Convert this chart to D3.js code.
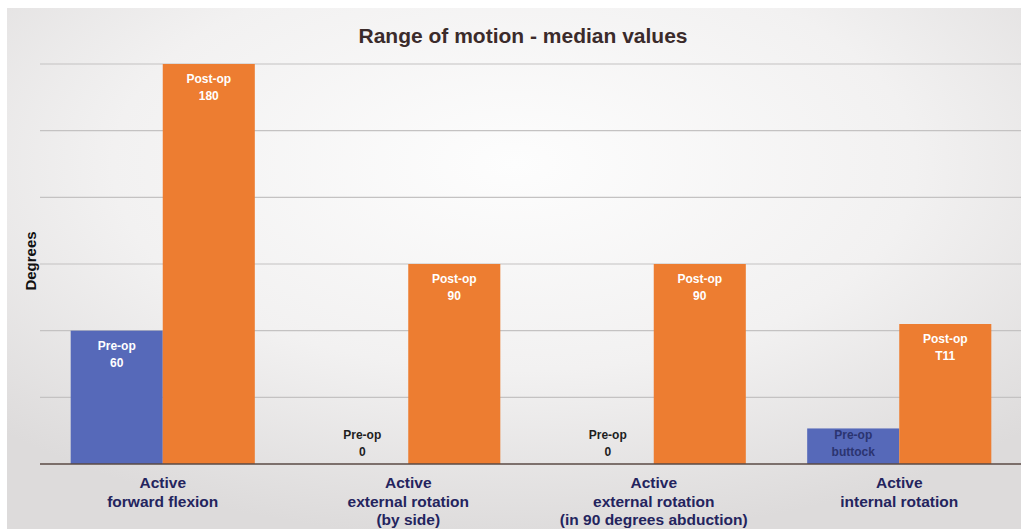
<!DOCTYPE html>
<html>
<head>
<meta charset="utf-8">
<script src="https://cdn.jsdelivr.net/npm/d3@7"></script>
<style>
  body { margin: 0; background: #fff; }
  text { font-family: "Liberation Sans", Arial, sans-serif; font-weight: bold; }
</style>
</head>
<body>
<div id="chart"></div>
<script>
// data
const categories = [
    ["Active", "forward flexion"],
    ["Active", "external rotation", "(by side)"],
    ["Active", "external rotation", "(in 90 degrees abduction)"],
    ["Active", "internal rotation"]
];
const seriesNames = ["Pre-op", "Post-op"];
const preValues = [60, 0, 0, 16];
const postValues = [180, 90, 90, 63];
const preLabels = ["60", "0", "0", "buttock"];
const postLabels = ["180", "90", "90", "T11"];
const yTicks = [0, 30, 60, 90, 120, 150, 180];

const width = 1021, height = 529;
const margin = {top: 64, bottom: 65, left: 40};
const colors = {"Pre-op": "#5669b9", "Post-op": "#ed7d31"};

const svg = d3.select("#chart")
    .append("svg")
    .attr("width", width)
    .attr("height", height);

// soft radial background like the slide
const defs = svg.append("defs");
const grad = defs.append("radialGradient")
    .attr("id", "bg")
    .attr("cx", "50%").attr("cy", "30%").attr("r", "72%");
grad.append("stop").attr("offset", "0%").attr("stop-color", "#fdfdfd");
grad.append("stop").attr("offset", "55%").attr("stop-color", "#f2f1f1");
grad.append("stop").attr("offset", "100%").attr("stop-color", "#dddbdb");
svg.append("rect")
    .attr("x", 7).attr("y", 8)
    .attr("width", width - 7).attr("height", height - 8)
    .attr("fill", "url(#bg)");

const y = d3.scaleLinear()
    .domain([0, 180])
    .range([height - margin.bottom, margin.top]);

const x0 = d3.scaleBand()
    .domain(d3.range(categories.length))
    .range([margin.left, 1022])
    .paddingInner(0.25)
    .paddingOuter(0.125);

const x1 = d3.scaleBand()
    .domain(seriesNames)
    .range([0, x0.bandwidth()]);

// gridlines
svg.append("g")
    .selectAll("line")
    .data(yTicks.slice(1))
    .enter()
    .append("line")
    .attr("x1", margin.left)
    .attr("x2", width)
    .attr("y1", d => y(d))
    .attr("y2", d => y(d))
    .attr("stroke", "#c4c2c2")
    .attr("stroke-width", 1.2);

const rows = categories.map((c, i) => ({
    i: i,
    bars: [
        {key: "Pre-op", value: preValues[i], label: preLabels[i]},
        {key: "Post-op", value: postValues[i], label: postLabels[i]}
    ]
}));

const groups = svg.append("g")
    .selectAll("g")
    .data(rows)
    .enter()
    .append("g")
    .attr("transform", d => "translate(" + x0(d.i) + ",0)");

groups.selectAll("rect")
    .data(d => d.bars.filter(b => b.value > 0))
    .enter()
    .append("rect")
    .attr("x", d => x1(d.key))
    .attr("width", x1.bandwidth())
    .attr("y", d => y(d.value))
    .attr("height", d => y(0) - y(d.value))
    .attr("fill", d => colors[d.key]);

// bar labels
const base = y(0);
groups.selectAll("g.lab")
    .data(d => d.bars)
    .enter()
    .append("g")
    .attr("class", "lab")
    .each(function (d) {
        const top = y(d.value);
        const ly = Math.min(top + 19, base - 25);
        let fill = "#ffffff";
        if (d.value === 0) fill = "#1e1e1e";
        else if (ly < top + 19) fill = "#2b3470"; // short bar, text crowds the edge
        const cx = x1(d.key) + x1.bandwidth() / 2;
        const g = d3.select(this);
        g.append("text")
            .attr("x", cx).attr("y", ly)
            .attr("text-anchor", "middle")
            .attr("font-size", 12)
            .attr("fill", fill)
            .text(d.key);
        g.append("text")
            .attr("x", cx).attr("y", ly + 17)
            .attr("text-anchor", "middle")
            .attr("font-size", 12)
            .attr("fill", fill)
            .text(d.label);
    });

// baseline
svg.append("line")
    .attr("x1", margin.left)
    .attr("x2", width)
    .attr("y1", base)
    .attr("y2", base)
    .attr("stroke", "#5a4a45")
    .attr("stroke-width", 1.6);

// category labels
svg.append("g")
    .selectAll("text")
    .data(categories)
    .enter()
    .append("text")
    .attr("x", (d, i) => x0(i) + x0.bandwidth() / 2)
    .attr("y", 488)
    .attr("text-anchor", "middle")
    .attr("font-size", 15.5)
    .attr("fill", "#24245e")
    .each(function (d) {
        const t = d3.select(this);
        d.forEach((line, j) => {
            t.append("tspan")
                .attr("x", t.attr("x"))
                .attr("dy", j === 0 ? 0 : 18.5)
                .text(line);
        });
    });

// title
svg.append("text")
    .attr("x", 523)
    .attr("y", 43)
    .attr("text-anchor", "middle")
    .attr("font-size", 21)
    .attr("fill", "#3b2b2b")
    .text("Range of motion - median values");

// y axis title
svg.append("text")
    .attr("transform", "translate(36,261) rotate(-90)")
    .attr("text-anchor", "middle")
    .attr("font-size", 15)
    .attr("fill", "#111")
    .text("Degrees");
</script>
</body>
</html>
